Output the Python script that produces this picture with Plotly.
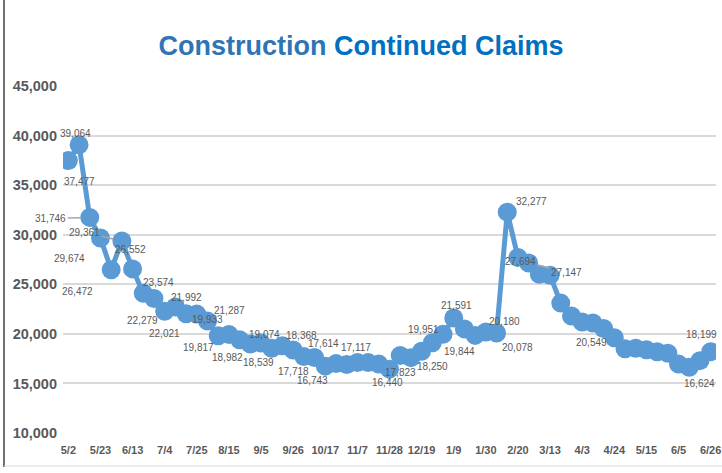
import plotly.graph_objects as go

# ---- data ----
dates = ["5/2", "5/9", "5/16", "5/23", "5/30", "6/6", "6/13", "6/20", "6/27",
         "7/4", "7/11", "7/18", "7/25", "8/1", "8/8", "8/15", "8/22", "8/29",
         "9/5", "9/12", "9/19", "9/26", "10/3", "10/10", "10/17", "10/24", "10/31",
         "11/7", "11/14", "11/21", "11/28", "12/5", "12/12", "12/19", "12/26",
         "1/2", "1/9", "1/16", "1/23", "1/30", "2/6", "2/13", "2/20", "2/27",
         "3/6", "3/13", "3/20", "3/27", "4/3", "4/10", "4/17", "4/24",
         "5/1", "5/8", "5/15", "5/22", "5/29", "6/5", "6/12", "6/19", "6/26"]

claims = [37477, 39064, 31746, 29674, 26472, 29361, 26552, 24100, 23574,
          22279, 22700, 22021, 21992, 21287, 19817, 19933, 19400, 18982,
          19074, 18539, 18800, 18368, 17718, 17614, 16743, 17000, 16900,
          17117, 17100, 16950, 16440, 17823, 17600, 18250, 19100, 19951,
          21591, 20500, 19844, 20180, 20078, 32277, 27694, 27147, 26000,
          25900, 23100, 21800, 21200, 21100, 20549, 19600, 18500, 18550,
          18400, 18200, 18050, 16950, 16624, 17300, 18199]

tick_labels = dates[::3]
y_ticks = [10000, 15000, 20000, 25000, 30000, 35000, 40000, 45000]

# indices of points that carry a data label
labeled_idx = [0, 1, 2, 3, 4, 5, 6, 8, 9, 11, 12, 13, 14, 15, 17, 18, 19, 21,
               22, 23, 24, 27, 30, 31, 33, 35, 36, 38, 39, 40, 41, 42, 43, 50, 58, 60]

# ---- label placement (pixel offsets of label centre from point, +dy = down) ----
label_offsets = {
    0: (11, 21), 1: (-4, -11), 2: (-39, 1), 3: (-31, 21), 4: (-34, 22),
    5: (-37, -9), 6: (-2, -19), 8: (5, -16), 9: (-22, 9), 11: (-22, 20),
    12: (-10, -17), 13: (22, -11), 14: (-20, 12), 15: (-21, -15),
    17: (-23, 14), 18: (3, -9), 19: (-13, 14), 21: (8, -15), 22: (-10, 15),
    23: (9, -14), 24: (-13, 14), 27: (-1, -15), 30: (-2, 13), 31: (0, 17),
    33: (11, 15), 35: (-20, -5), 36: (3, -13), 38: (-16, 16), 39: (19, -11),
    40: (21, 14), 41: (24, -11), 42: (3, 4), 43: (38, 9), 50: (-12, 14),
    58: (10, 16), 60: (-9, -17),
}
leader_idx = [2, 5, 43]

line_color = "#5B9BD5"
label_color = "#595959"
font_family = "Liberation Sans, Arial"

fig = go.Figure()
fig.add_trace(go.Scatter(
    x=dates, y=claims, mode="lines+markers",
    line=dict(color=line_color, width=5),
    marker=dict(color=line_color, size=19),
    hoverinfo="x+y", showlegend=False,
))

annotations = []
for i in labeled_idx:
    dx, dy = label_offsets[i]
    txt = f"{claims[i]:,}"
    common = dict(x=dates[i], y=claims[i], xref="x", yref="y", text=txt,
                  font=dict(family=font_family, size=10, color=label_color))
    if i in leader_idx:
        annotations.append(dict(
            **common, showarrow=True, ax=dx, ay=dy, arrowhead=0,
            arrowwidth=1.5, arrowcolor="#A6A6A6", standoff=9,
        ))
    else:
        annotations.append(dict(**common, showarrow=False, xshift=dx, yshift=-dy))

W, H = 722, 473
L, R, T, B = 63, 6, 86, 40
pw, ph = W - L - R, H - T - B


def px_to_paper_x(px):
    return (px - L) / pw


def px_to_paper_y(py):
    return (H - B - py) / ph


shapes = [
    dict(type="line", xref="paper", yref="paper",
         x0=px_to_paper_x(4), x1=px_to_paper_x(4),
         y0=px_to_paper_y(0), y1=px_to_paper_y(467),
         line=dict(color="#404040", width=1.5)),
    dict(type="line", xref="paper", yref="paper",
         x0=px_to_paper_x(4), x1=px_to_paper_x(722),
         y0=px_to_paper_y(466), y1=px_to_paper_y(466),
         line=dict(color="#D9D9D9", width=1)),
]

fig.update_layout(
    width=W, height=H,
    margin=dict(l=L, r=R, t=T, b=B, autoexpand=False),
    paper_bgcolor="white", plot_bgcolor="white",
    title=dict(
        text="<b><span style='color:#2E75B6'>Construction</span> Continued Claims</b>",
        x=0.5, xref="container", xanchor="center",
        y=1 - 46 / H, yref="container", yanchor="middle",
        font=dict(family=font_family, size=27, color="#0070C0"),
    ),
    xaxis=dict(
        type="category", categoryorder="array", categoryarray=dates,
        range=[-0.5, len(dates) - 0.5], automargin=False,
        tickmode="array", tickvals=tick_labels,
        ticktext=[f"<b>{t}</b>" for t in tick_labels],
        showgrid=False, zeroline=False, showline=False, ticks="",
        tickfont=dict(family=font_family, size=11, color=label_color),
        ticklabelstandoff=9, tickangle=0,
    ),
    yaxis=dict(
        range=[10000, 45000], tickvals=y_ticks, automargin=False,
        ticktext=[f"<b>{v:,}</b>" for v in y_ticks],
        showgrid=True, gridcolor="#D9D9D9", gridwidth=1.5,
        zeroline=False, showline=False, ticks="",
        tickfont=dict(family=font_family, size=14.5, color=label_color),
        ticklabelstandoff=5,
    ),
    annotations=annotations,
    shapes=shapes,
)

fig.write_html("out.html", config={"displayModeBar": False},
               post_script="document.body.style.margin='0';document.body.style.padding='0';")
